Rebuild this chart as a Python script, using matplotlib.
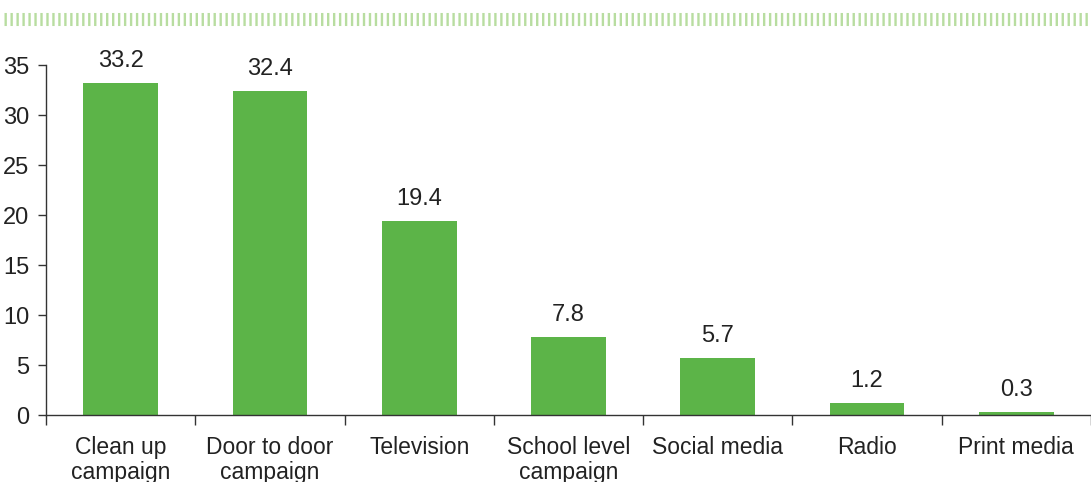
import numpy as np
import matplotlib
matplotlib.use("Agg")
import matplotlib.pyplot as plt
from matplotlib.lines import Line2D

categories = ["Clean up\ncampaign", "Door to door\ncampaign", "Television",
              "School level\ncampaign", "Social media", "Radio", "Print media"]
values = [33.2, 32.4, 19.4, 7.8, 5.7, 1.2, 0.3]
yticks = [0, 5, 10, 15, 20, 25, 30, 35]

plt.rcParams['font.family'] = ['Liberation Sans', 'DejaVu Sans']
plt.rcParams['lines.scale_dashes'] = False

W, H = 1091, 482
fig = plt.figure(figsize=(W / 100, H / 100), dpi=100)
ax = fig.add_axes([46 / W, 67 / H, 1 - 46 / W, (415 - 65) / H])

x = np.arange(len(categories))
ax.bar(x, values, width=0.5, color='#5cb448')

for xi, v in zip(x, values):
    ax.annotate(f"{v}", (xi, v), xytext=(0, 8), textcoords='offset points',
                ha='center', va='bottom', fontsize=17, color='#222222')

ax.set_xlim(-0.5, len(categories) - 0.5)
ax.set_ylim(0, 35)
ax.set_yticks(yticks)
ax.set_yticklabels([str(t) for t in yticks], fontsize=17, color='#222222')
ax.set_xticks(np.arange(-0.5, len(categories)))
ax.set_xticklabels([])
ax.set_xticks(x, minor=True)
ax.set_xticklabels(categories, minor=True, fontsize=16.5, color='#222222',
                   linespacing=1.1, va='top')
ax.tick_params(axis='x', which='minor', length=0, pad=15)
ax.tick_params(axis='x', which='major', length=7, width=1, color='#333333')
ax.tick_params(axis='y', length=6, width=1, color='#333333', pad=6)

for s in ['top', 'right']:
    ax.spines[s].set_visible(False)
for s in ['left', 'bottom']:
    ax.spines[s].set_color('#333333')
    ax.spines[s].set_linewidth(1)

# dashed decorative band on top
band = Line2D([4 / W, 1.0], [1 - 19 / H, 1 - 19 / H], transform=fig.transFigure,
              color='#b8dda0', linewidth=9.4, linestyle=(0, (1.7, 2.6)))
fig.add_artist(band)

fig.savefig("out.png", dpi=100)
